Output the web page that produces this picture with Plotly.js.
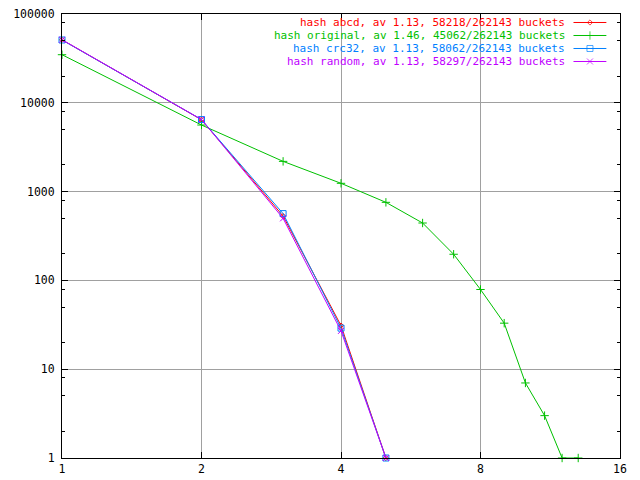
<!DOCTYPE html>
<html>
<head>
<meta charset="utf-8">
<script src="https://cdn.plot.ly/plotly-3.0.1.min.js"></script>
<style>html,body{margin:0;padding:0;background:#fff;}#chart{width:640px;height:480px;}</style>
</head>
<body>
<div id="chart"></div>
<script>
// ---- data (chain length vs number of buckets) ----
const xAbcd = [1, 2, 3, 4, 5];
const yAbcd = [51200, 6450, 530, 31, 1];

const xOriginal = [1, 2, 3, 4, 5, 6, 7, 8, 9, 10, 11, 12, 13];
const yOriginal = [34800, 5620, 2190, 1240, 757, 443, 197, 79, 33, 7, 3, 1, 1];

const xCrc32 = [1, 2, 3, 4, 5];
const yCrc32 = [51000, 6470, 565, 29, 1];

const xRandom = [1, 2, 3, 4, 5];
const yRandom = [51300, 6480, 500, 27, 1];

const seriesNames = [
  "hash abcd, av 1.13, 58218/262143 buckets",
  "hash original, av 1.46, 45062/262143 buckets",
  "hash crc32, av 1.13, 58062/262143 buckets",
  "hash random, av 1.13, 58297/262143 buckets"
];
const seriesColors = ["#ff0000", "#00c000", "#0080ff", "#c000ff"];
const seriesSymbols = ["diamond-open", "cross-thin-open", "square-open", "x-thin-open"];
const seriesSizes = [4, 6, 6, 6];

const xTickVals = [1, 2, 4, 8, 16];
const xTickText = ["1", "2", "4", "8", "16"];
const yTickVals = [1, 10, 100, 1000, 10000, 100000];
const yTickText = ["1", "10", "100", "1000", "10000", "100000"];
const yMinorVals = [2, 5, 8, 20, 50, 80, 200, 500, 800, 2000, 5000, 8000, 20000, 50000, 80000];

// legend key geometry (in the key's own unit axes) and text rows (paper fractions)
const keyX = [0, 0.5, 1];
const legendTextX = 0.9014;
const legendTextY = [0.98086, 0.95158, 0.92230, 0.89302];

const FONT = "DejaVu Sans Mono, monospace";
const seriesX = [xAbcd, xOriginal, xCrc32, xRandom];
const seriesY = [yAbcd, yOriginal, yCrc32, yRandom];

const traces = [];
for (let i = 0; i < 4; i++) {
  traces.push({
    type: "scatter", mode: "lines+markers",
    x: seriesX[i], y: seriesY[i], name: seriesNames[i],
    line: {color: seriesColors[i], width: 1},
    marker: {symbol: seriesSymbols[i], size: seriesSizes[i], color: seriesColors[i], line: {width: 1, color: seriesColors[i]}},
    cliponaxis: false, showlegend: false
  });
}
// legend keys
const annotations = [];
for (let i = 0; i < 4; i++) {
  traces.push({
    type: "scatter", mode: "lines+markers",
    x: keyX, y: [i, i, i], xaxis: "x2", yaxis: "y2",
    line: {color: seriesColors[i], width: 1},
    marker: {symbol: seriesSymbols[i], size: [0, seriesSizes[i], 0], color: seriesColors[i], line: {width: 1, color: seriesColors[i]}},
    cliponaxis: false, showlegend: false, hoverinfo: "skip"
  });
  annotations.push({
    xref: "paper", yref: "paper", x: legendTextX, y: legendTextY[i], xanchor: "right", yanchor: "middle",
    text: seriesNames[i], showarrow: false, borderpad: 0, borderwidth: 0,
    font: {family: FONT, size: 11, color: seriesColors[i]}
  });
}

const layout = {
  width: 640, height: 480,
  margin: {l: 62, r: 20, t: 14, b: 22, pad: 0},
  paper_bgcolor: "#ffffff", plot_bgcolor: "#ffffff",
  showlegend: false,
  font: {family: FONT, size: 11.5, color: "#000"},
  xaxis: {
    type: "log", range: [0, Math.log10(16)],
    tickmode: "array", tickvals: xTickVals, ticktext: xTickText,
    ticks: "inside", ticklen: 6, tickcolor: "#000", tickwidth: 1,
    showline: true, linecolor: "#000", linewidth: 1, mirror: "ticks",
    showgrid: true, gridcolor: "#a0a0a0", gridwidth: 1,
    zeroline: false, tickfont: {family: FONT, size: 11.5, color: "#000"}
  },
  yaxis: {
    type: "log", range: [0, 5],
    tickmode: "array", tickvals: yTickVals, ticktext: yTickText,
    ticks: "inside", ticklen: 6, tickcolor: "#000", tickwidth: 1,
    minor: {tickmode: "array", tickvals: yMinorVals, ticks: "inside", ticklen: 3, tickcolor: "#000", tickwidth: 1, showgrid: false},
    showline: true, linecolor: "#000", linewidth: 1, mirror: "ticks",
    showgrid: true, gridcolor: "#a0a0a0", gridwidth: 1,
    zeroline: false, tickfont: {family: FONT, size: 11.5, color: "#000"},
    ticklabelstandoff: 4
  },
  xaxis2: {domain: [0.9163, 0.9760], range: [0, 1], visible: false, fixedrange: true, anchor: "y2"},
  yaxis2: {domain: [0.87838, 0.99550], range: [3.5, -0.5], visible: false, fixedrange: true, anchor: "x2"},
  annotations: annotations
};

Plotly.newPlot("chart", traces, layout, {staticPlot: true, displayModeBar: false});
</script>
</body>
</html>
